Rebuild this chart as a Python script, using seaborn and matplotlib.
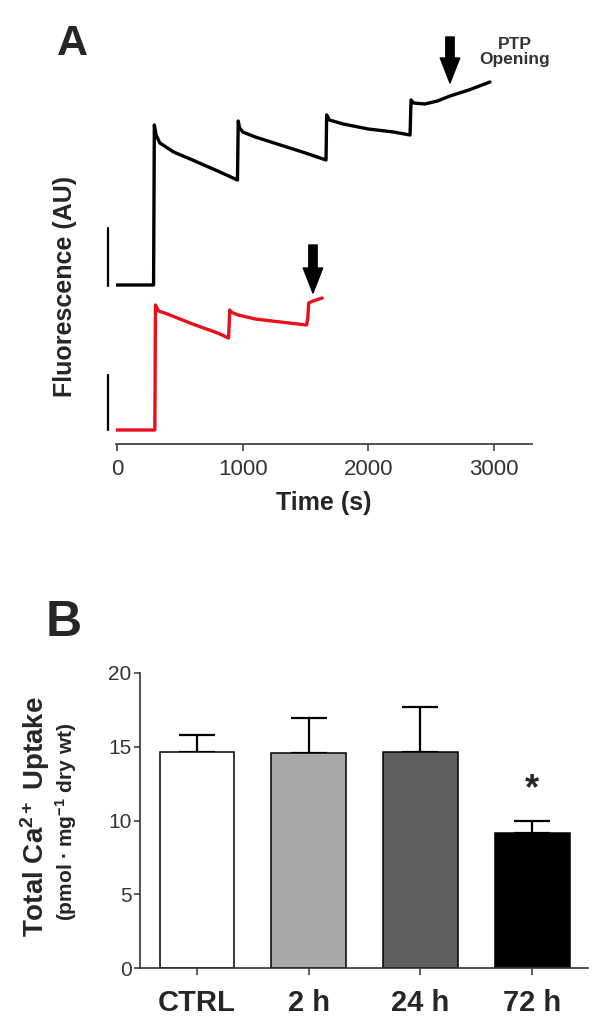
import numpy as np
import pandas as pd
import seaborn as sns
import matplotlib.pyplot as plt

# ---- Panel A: fluorescence traces (arbitrary units) ----
ctrl_time = [-8, 290, 296, 310, 340, 450, 600, 800, 958, 964, 975, 1000, 1100, 1300, 1500, 1663,
             1668, 1690, 1800, 2000, 2200, 2332, 2340, 2360, 2450, 2550, 2650, 2800, 2968]
ctrl_fluo = [15.9, 15.9, 31.9, 30.9, 30.1, 29.2, 28.4, 27.3, 26.4, 32.3, 31.6, 31.2, 30.7, 29.9, 29.1, 28.4,
             32.9, 32.4, 32.0, 31.5, 31.2, 30.9, 34.4, 34.1, 34.0, 34.3, 34.8, 35.4, 36.2]

treat_time = [-8, 300, 305, 330, 400, 600, 800, 887, 897, 905, 964, 1100, 1300, 1508, 1518, 1525, 1560, 1633]
treat_fluo = [1.4, 1.4, 13.9, 13.3, 13.0, 12.0, 11.1, 10.6, 13.4, 13.2, 12.9, 12.5, 12.2, 11.9, 12.6, 14.1, 14.3, 14.6]

arrow_time = [2650, 1559]
arrow_tail = [40.7, 19.9]
arrow_tip = [36.1, 15.1]

scalebar_time = -73
scalebar_ctrl = [15.8, 21.6]
scalebar_treat = [1.4, 6.9]

time_ticks = [0, 1000, 2000, 3000]

# ---- Panel B: total Ca2+ uptake ----
groups = ['CTRL', '2 h', '24 h', '72 h']
uptake_mean = [14.65, 14.55, 14.65, 9.15]
uptake_err = [1.15, 2.4, 3.05, 0.85]
bar_colors = ['#ffffff', '#a8a8a8', '#5e5e5e', '#000000']

sns.set_style('ticks')
plt.rcParams['font.family'] = ['Liberation Sans', 'DejaVu Sans']
plt.rcParams['mathtext.fontset'] = 'custom'
plt.rcParams['mathtext.rm'] = 'Liberation Sans:bold'
plt.rcParams['mathtext.bf'] = 'Liberation Sans:bold'
plt.rcParams['mathtext.it'] = 'Liberation Sans:bold'

fig = plt.figure(figsize=(6.13, 10.29), dpi=100)
W, H = 613, 1029

# ---------------- Panel A ----------------
axA = fig.add_axes([116.4 / W, 1 - 444 / H, 415.6 / W, 430 / H])
traces = pd.concat([
    pd.DataFrame({'time': ctrl_time, 'fluo': ctrl_fluo, 'cond': 'ctrl'}),
    pd.DataFrame({'time': treat_time, 'fluo': treat_fluo, 'cond': 'treat'}),
])
sns.lineplot(data=traces, x='time', y='fluo', hue='cond', units='cond', estimator=None, sort=False,
             palette={'ctrl': 'black', 'treat': '#e8101a'}, linewidth=2.4, legend=False, ax=axA)

# scale bars
axA.plot([scalebar_time, scalebar_time], scalebar_ctrl, color='black', lw=1.6, clip_on=False)
axA.plot([scalebar_time, scalebar_time], scalebar_treat, color='black', lw=1.6, clip_on=False)

# arrows marking PTP opening
for t, y0, y1 in zip(arrow_time, arrow_tail, arrow_tip):
    axA.annotate('', xy=(t, y1), xytext=(t, y0),
                 arrowprops=dict(facecolor='black', edgecolor='black', width=6, headwidth=14,
                                 headlength=18, shrink=0))
axA.text(3167, 39.2, 'PTP\nOpening', ha='center', va='center', fontsize=12.5, fontweight='bold',
         color='#333333', linespacing=1.05)

axA.set_xlim(-6, 3303)
axA.set_ylim(0, 43)
axA.set_xticks(time_ticks)
axA.set_xticklabels([str(t) for t in time_ticks])
axA.set_yticks([])
axA.set_ylabel('')
axA.set_xlabel('Time (s)', fontsize=18, fontweight='bold', labelpad=8)
sns.despine(ax=axA, left=True)
axA.spines['bottom'].set_color('#444444')
axA.spines['bottom'].set_linewidth(1.3)
axA.tick_params(axis='x', length=5, width=1.2, color='#444444', labelsize=16, labelcolor='#333333', pad=6)

fig.text(65 / W, 1 - 286 / H, 'Fluorescence (AU)', rotation=90, ha='center', va='center',
         fontsize=18, fontweight='bold')
fig.text(72 / W, 1 - 44 / H, 'A', ha='center', va='center', fontsize=31, fontweight='bold')

# ---------------- Panel B ----------------
axB = fig.add_axes([140 / W, 1 - 968 / H, 448 / W, 295 / H])
sns.barplot(x=groups, y=uptake_mean, hue=groups, palette=bar_colors, edgecolor='black', linewidth=1.1,
            width=0.67, legend=False, ax=axB, zorder=2)
axB.errorbar(range(len(groups)), uptake_mean, yerr=[[0] * len(groups), uptake_err], fmt='none',
             ecolor='black', elinewidth=1.6, capsize=13, capthick=1.6, zorder=1)
axB.text(3, 12.1, '*', ha='center', va='center', fontsize=26, fontweight='bold')

axB.set_xlim(-0.51, 3.5)
axB.set_ylim(0, 20)
axB.set_yticks([0, 5, 10, 15, 20])
axB.set_xlabel('')
axB.set_ylabel('')
sns.despine(ax=axB)
for side in ['left', 'bottom']:
    axB.spines[side].set_color('#333333')
    axB.spines[side].set_linewidth(1.2)
axB.tick_params(axis='y', length=4, width=1.1, color='#333333', labelsize=15, labelcolor='#333333', pad=2)
axB.tick_params(axis='x', length=5, width=1.1, color='#333333', labelsize=21, pad=10)
for lab in axB.get_xticklabels():
    lab.set_fontweight('bold')

fig.text(35 / W, 1 - 817 / H, r'Total Ca$^{2+}$ Uptake', rotation=90, ha='center', va='center',
         fontsize=20, fontweight='bold')
fig.text(66 / W, 1 - 822 / H, r'(pmol $\bullet$ mg$^{-1}$ dry wt)', rotation=90, ha='center', va='center',
         fontsize=15, fontweight='bold')
fig.text(64 / W, 1 - 623 / H, 'B', ha='center', va='center', fontsize=36, fontweight='bold')

fig.savefig('out.png', dpi=100)
